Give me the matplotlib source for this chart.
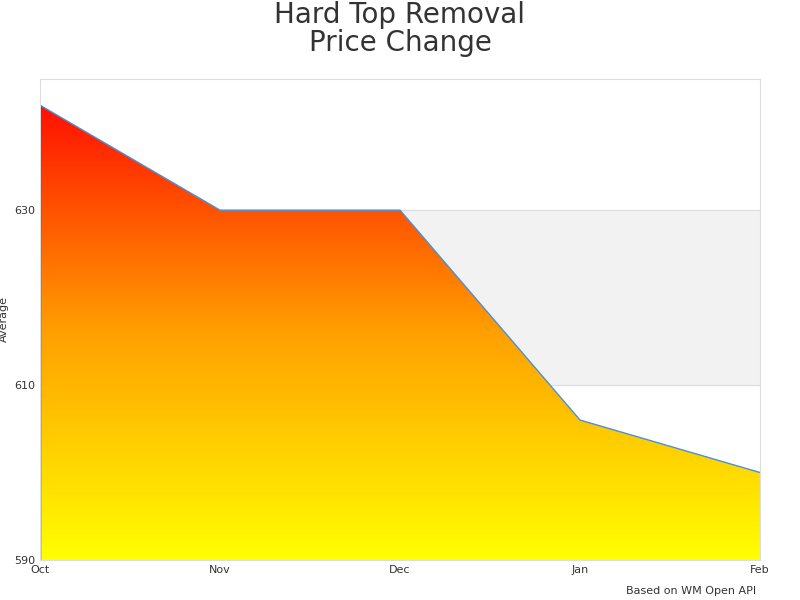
import matplotlib.pyplot as plt
import numpy as np
from matplotlib.colors import LinearSegmentedColormap

months = ["Oct", "Nov", "Dec", "Jan", "Feb"]
average = [642, 630, 630, 606, 600]

fig = plt.figure(figsize=(8, 6), dpi=100)
ax = fig.add_axes([0.05, 0.0667, 0.9, 0.8017])
x = np.arange(len(months))

ax.set_xlim(0, len(months) - 1)
ax.set_ylim(590, 645)
ax.axhspan(610, 630, color="#f2f2f2", zorder=0)
for yv in [610, 630]:
    ax.axhline(yv, color="#dddddd", lw=0.8, zorder=0.5)

cmap = LinearSegmentedColormap.from_list("ry", ["#ffff00", "#ffa000", "#ff1000"])
grad = np.linspace(0, 1, 256).reshape(-1, 1)
poly = ax.fill_between(x, average, 590, color="none")
img = ax.imshow(grad, cmap=cmap, origin="lower", aspect="auto",
                extent=[0, len(months) - 1, 590, 642], zorder=1)
img.set_clip_path(poly.get_paths()[0], transform=ax.transData)
ax.plot(x, average, color="#4a90d9", lw=1, zorder=2)
ax.plot([0, 0], [590, average[0]], color="#333333", lw=1, zorder=2)

ax.set_xticks(x)
ax.set_xticklabels(months)
ax.set_yticks([590, 610, 630])
ax.tick_params(length=0, labelsize=8, colors="#333333")
ax.set_ylabel("Average", fontsize=8, color="#333333")
for s in ax.spines.values():
    s.set_color("#dddddd")

fig.text(0.5, 0.915, "Hard Top Removal\nPrice Change", ha="center", fontsize=20,
         color="#333333", linespacing=1.0)
fig.text(0.945, 0.01, "Based on WM Open API", ha="right", fontsize=8, color="#333333")
fig.savefig("out.png")
